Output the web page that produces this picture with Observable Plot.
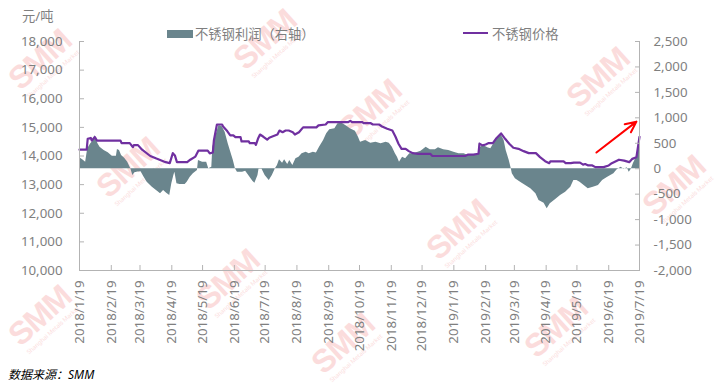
<!DOCTYPE html>
<html><head><meta charset="utf-8">
<script src="https://cdn.jsdelivr.net/npm/d3@7"></script>
<script src="https://cdn.jsdelivr.net/npm/@observablehq/plot@0.6"></script>
<style>
html,body{margin:0;padding:0;background:#fff;}
#wrap{position:relative;width:718px;height:388px;overflow:hidden;font-family:"Noto Sans","Noto Sans CJK SC",sans-serif;}
#chart{position:absolute;left:0;top:0;z-index:2;}
.wm{position:absolute;z-index:1;color:#fbdcdc;transform:translate(-50%,-50%) rotate(-42deg);text-align:center;line-height:1;white-space:nowrap;}
.wm b{display:block;font-family:"Liberation Sans",sans-serif;font-weight:900;font-size:32px;letter-spacing:-1px;}
.wm i{display:block;font-style:normal;font-size:6px;margin-top:1px;}
.lg{position:absolute;z-index:3;font-size:13.3px;line-height:16px;color:#7f7f7f;white-space:nowrap;}
</style></head><body><div id="wrap"></div>
<script>
// ---- data ----
const priceDates = ["2018-01-19","2018-01-26","2018-01-27","2018-01-30","2018-01-31","2018-02-03","2018-02-05","2018-02-28","2018-03-01","2018-03-09","2018-03-12","2018-03-13","2018-03-17","2018-03-21","2018-03-29","2018-04-04","2018-04-13","2018-04-17","2018-04-20","2018-04-22","2018-04-24","2018-05-04","2018-05-07","2018-05-12","2018-05-15","2018-05-24","2018-05-26","2018-05-29","2018-05-30","2018-06-02","2018-06-07","2018-06-08","2018-06-12","2018-06-15","2018-06-18","2018-06-20","2018-06-25","2018-06-26","2018-07-03","2018-07-04","2018-07-09","2018-07-10","2018-07-12","2018-07-14","2018-07-17","2018-07-21","2018-07-23","2018-07-26","2018-07-31","2018-08-02","2018-08-05","2018-08-08","2018-08-11","2018-08-15","2018-08-17","2018-08-21","2018-08-25","2018-09-07","2018-09-09","2018-09-16","2018-09-18","2018-10-08","2018-10-10","2018-10-12","2018-10-22","2018-10-23","2018-10-30","2018-11-01","2018-11-07","2018-11-10","2018-11-15","2018-11-20","2018-11-23","2018-11-26","2018-11-29","2018-12-03","2018-12-06","2018-12-10","2018-12-15","2018-12-27","2018-12-29","2019-01-30","2019-02-02","2019-02-07","2019-02-12","2019-02-13","2019-02-16","2019-02-19","2019-02-22","2019-02-26","2019-03-01","2019-03-06","2019-03-10","2019-03-14","2019-03-18","2019-03-23","2019-03-28","2019-04-02","2019-04-09","2019-04-13","2019-04-18","2019-04-22","2019-04-23","2019-05-06","2019-05-08","2019-05-13","2019-05-16","2019-05-22","2019-05-25","2019-05-27","2019-05-30","2019-06-03","2019-06-06","2019-06-14","2019-06-19","2019-06-22","2019-06-29","2019-07-04","2019-07-09","2019-07-12","2019-07-16","2019-07-18","2019-07-19"];
const priceValues = [14220,14220,14600,14630,14540,14660,14540,14540,14450,14450,14310,14380,14380,14220,14000,13910,13785,13750,14100,14020,13785,13785,13870,13980,14190,14190,14090,14120,14540,15100,15100,15030,14870,14720,14720,14660,14660,14510,14510,14450,14450,14390,14600,14750,14680,14570,14640,14680,14750,14890,14830,14890,14890,14830,14750,14830,15000,15000,15070,15100,15180,15180,15230,15180,15180,15145,15145,15100,15100,15030,14950,14890,14680,14430,14250,14250,14170,14100,14077,14077,14000,14000,14050,14050,14080,14430,14370,14400,14450,14450,14600,14790,14600,14430,14290,14250,14170,14100,14100,13960,13820,13750,13810,13810,13750,13750,13770,13770,13700,13720,13670,13670,13610,13610,13670,13750,13870,13840,13785,13900,13960,14430,14670];

const profitDates = ["2018-01-19","2018-01-20","2018-01-23","2018-01-25","2018-01-27","2018-01-30","2018-02-01","2018-02-03","2018-02-06","2018-02-08","2018-02-12","2018-02-16","2018-02-20","2018-02-24","2018-02-25","2018-02-27","2018-03-01","2018-03-04","2018-03-07","2018-03-10","2018-03-12","2018-03-14","2018-03-17","2018-03-20","2018-03-23","2018-03-26","2018-03-31","2018-04-05","2018-04-08","2018-04-11","2018-04-14","2018-04-17","2018-04-19","2018-04-21","2018-04-22","2018-04-24","2018-04-27","2018-05-02","2018-05-04","2018-05-07","2018-05-10","2018-05-14","2018-05-15","2018-05-19","2018-05-23","2018-05-25","2018-05-28","2018-05-29","2018-06-01","2018-06-04","2018-06-07","2018-06-10","2018-06-13","2018-06-15","2018-06-18","2018-06-20","2018-06-22","2018-06-27","2018-06-30","2018-07-03","2018-07-07","2018-07-09","2018-07-12","2018-07-13","2018-07-16","2018-07-19","2018-07-23","2018-07-26","2018-07-29","2018-07-31","2018-08-02","2018-08-05","2018-08-07","2018-08-10","2018-08-12","2018-08-15","2018-08-18","2018-08-21","2018-08-24","2018-08-28","2018-08-31","2018-09-04","2018-09-07","2018-09-10","2018-09-14","2018-09-17","2018-09-20","2018-09-25","2018-09-28","2018-10-02","2018-10-07","2018-10-10","2018-10-15","2018-10-18","2018-10-20","2018-10-25","2018-10-30","2018-11-04","2018-11-09","2018-11-14","2018-11-17","2018-11-20","2018-11-23","2018-11-25","2018-11-27","2018-11-30","2018-12-03","2018-12-07","2018-12-10","2018-12-13","2018-12-18","2018-12-23","2018-12-27","2019-01-01","2019-01-04","2019-01-09","2019-01-14","2019-01-19","2019-01-24","2019-01-29","2019-02-02","2019-02-07","2019-02-12","2019-02-13","2019-02-14","2019-02-17","2019-02-21","2019-02-24","2019-02-27","2019-03-02","2019-03-06","2019-03-09","2019-03-11","2019-03-14","2019-03-16","2019-03-17","2019-03-20","2019-03-25","2019-03-30","2019-04-04","2019-04-09","2019-04-12","2019-04-17","2019-04-20","2019-04-23","2019-04-28","2019-05-03","2019-05-08","2019-05-13","2019-05-16","2019-05-19","2019-05-22","2019-05-26","2019-05-30","2019-06-04","2019-06-09","2019-06-13","2019-06-18","2019-06-21","2019-06-24","2019-06-27","2019-07-01","2019-07-04","2019-07-07","2019-07-09","2019-07-11","2019-07-13","2019-07-16","2019-07-18","2019-07-19"];
const profitValues = [210,206,161,128,391,489,534,652,489,422,358,312,246,246,377,360,260,206,128,0,-134,-80,-65,-60,-167,-265,-364,-442,-493,-428,-481,-527,-297,-134,-69,-297,-310,-310,-265,-167,-100,-35,161,128,128,0,30,422,650,849,829,717,489,358,161,0,-69,-69,-50,-134,-246,-285,-134,-10,-10,-134,-232,-134,0,63,175,108,175,83,161,63,195,226,293,324,293,324,310,422,554,686,764,784,882,894,829,784,737,619,521,554,501,521,489,521,501,422,293,226,128,226,195,293,293,310,344,422,371,371,410,371,358,324,293,293,260,277,277,521,422,455,410,391,489,587,672,554,358,161,0,-100,-198,-265,-330,-395,-493,-625,-678,-788,-690,-611,-527,-462,-364,-232,-232,-265,-330,-395,-364,-330,-232,-167,-134,-100,-25,30,-10,20,-69,-10,96,226,358,650];

const monthTicks = ["2018-01-19","2018-02-19","2018-03-19","2018-04-19","2018-05-19","2018-06-19","2018-07-19","2018-08-19","2018-09-19","2018-10-19","2018-11-19","2018-12-19","2019-01-19","2019-02-19","2019-03-19","2019-04-19","2019-05-19","2019-06-19","2019-07-19"];
const leftTicks = [10000,11000,12000,13000,14000,15000,16000,17000,18000];
const rightTicks = [-2000,-1500,-1000,-500,0,500,1000,1500,2000,2500];
const arrowStart = {date:"2019-06-07", value:14120};
const arrowEnd = {date:"2019-07-16", value:15200};

const seriesNames = ["不锈钢利润（右轴）","不锈钢价格"];
const unitLabel = "元/吨";
const sourceLabel = "数据来源：SMM";

// ---- build ----
const L0 = leftTicks[0], L1 = leftTicks[leftTicks.length-1];
const R0 = rightTicks[0], R1 = rightTicks[rightTicks.length-1];
const toLeft = v => L0 + (v - R0) * (L1 - L0) / (R1 - R0);
const toRight = v => R0 + (v - L0) * (R1 - R0) / (L1 - L0);
const parse = d3.utcParse("%Y-%m-%d");
const price = priceDates.map((d,i) => ({date: parse(d), v: priceValues[i]}));
const profit = profitDates.map((d,i) => ({date: parse(d), v: profitValues[i]}));
const ticksX = monthTicks.map(parse);
const x0 = ticksX[0], x1 = ticksX[ticksX.length-1];
const fmtN = v => d3.format(",")(Math.round(v)).replace("−","-");
const fmtD = d3.utcFormat("%Y/%-m/%-d");
const axisColor = "#b3b3b3", labelColor = "#7f7f7f";

const chart = Plot.plot({
  width: 718, height: 388,
  marginLeft: 79, marginRight: 79, marginTop: 41, marginBottom: 118,
  style: {background: "transparent", fontFamily: '"Noto Sans","Noto Sans CJK SC",sans-serif', fontSize: "13.3px", overflow: "visible"},
  x: {type: "utc", domain: [x0, x1]},
  y: {domain: [L0, L1]},
  marks: [
    Plot.areaY(profit, {x: "date", y1: () => toLeft(0), y2: d => toLeft(d.v), fill: "#6a858d"}),
    Plot.line(price, {x: "date", y: "v", stroke: "#7030a0", strokeWidth: 2.2}),
    Plot.ruleX([x0, x1], {stroke: axisColor}),
    Plot.ruleY([L0], {stroke: axisColor}),
    Plot.axisY(leftTicks, {anchor: "left", tickSize: -5, tickPadding: 22, tickFormat: fmtN, stroke: axisColor, fill: labelColor, label: null}),
    Plot.axisY(rightTicks.map(toLeft), {anchor: "right", tickSize: -5, tickPadding: 19, tickFormat: d => fmtN(toRight(d)), stroke: axisColor, fill: labelColor, label: null}),
    Plot.axisX(ticksX, {anchor: "bottom", tickSize: -5, tickPadding: 15, tickRotate: -90, tickFormat: fmtD, stroke: axisColor, fill: labelColor, label: null}),
    Plot.arrow([{a: arrowStart, b: arrowEnd}], {x1: d => parse(d.a.date), y1: d => d.a.value, x2: d => parse(d.b.date), y2: d => d.b.value, stroke: "#ff0000", strokeWidth: 2, headLength: 9, headAngle: 50})
  ]
});
chart.id = "chart";
const wrap = document.getElementById("wrap");
wrap.appendChild(chart);

// watermarks (kept fully inside the frame)
const wmPos = [[42,62],[267,42],[130,170],[372,112],[600,80],[230,282],[460,232],[676,188],[42,318],[345,346],[558,330]];
for (const [x,y] of wmPos) {
  const el = document.createElement("div");
  el.className = "wm";
  el.style.left = x + "px"; el.style.top = y + "px";
  el.innerHTML = "<b>SMM</b><i>Shanghai Metals Market</i>";
  wrap.appendChild(el);
}

function addDiv(html, css){ const el = document.createElement("div"); el.className = "lg"; el.innerHTML = html; Object.assign(el.style, css); wrap.appendChild(el); return el; }
addDiv("", {left:"167px", top:"30px", width:"26px", height:"7.5px", background:"#6a858d"});
addDiv(seriesNames[0], {left:"195px", top:"26px"});
addDiv("", {left:"463px", top:"32px", width:"25px", height:"2.4px", background:"#7030a0"});
addDiv(seriesNames[1], {left:"492px", top:"26px"});
addDiv(unitLabel, {left:"22px", top:"8px"});
addDiv(sourceLabel, {left:"8px", top:"367px", fontSize:"12px", fontStyle:"italic", color:"#000"});
</script>
</body></html>
